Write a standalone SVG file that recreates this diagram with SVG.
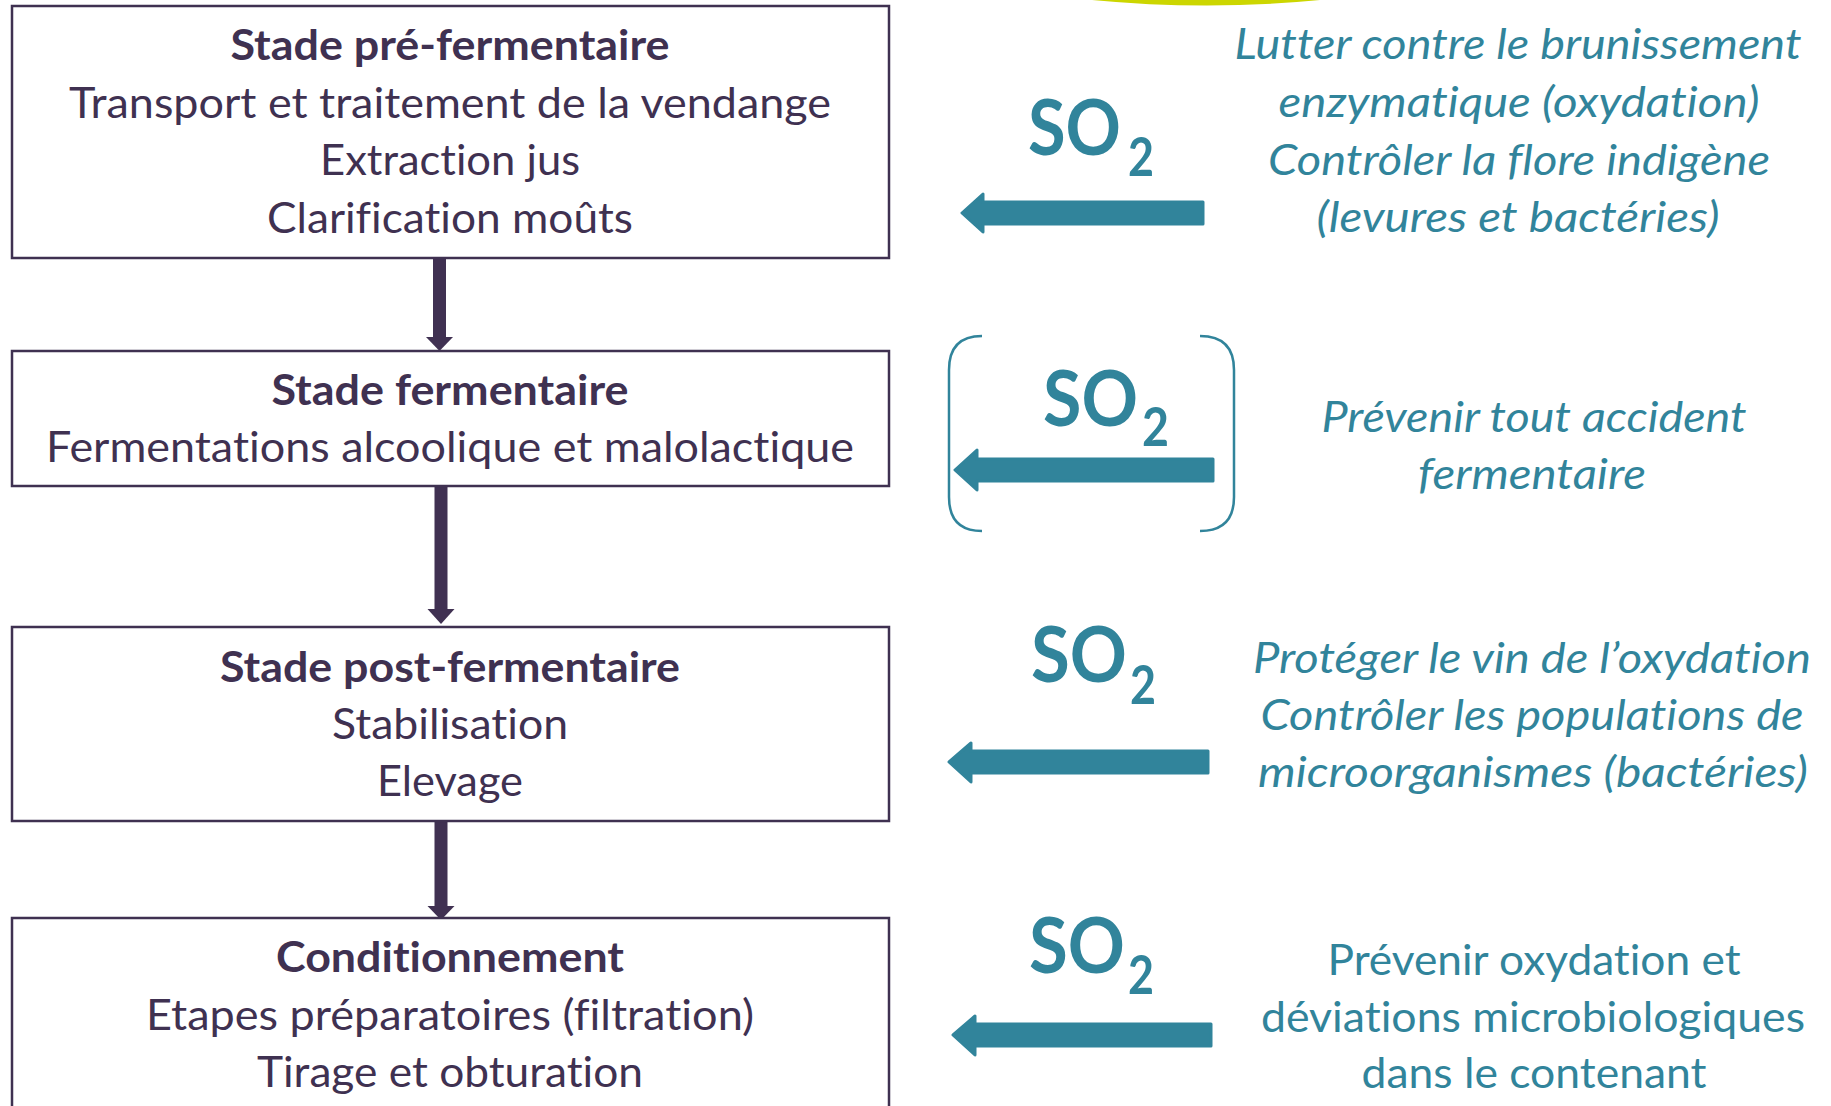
<svg xmlns="http://www.w3.org/2000/svg" width="1831" height="1106" viewBox="0 0 1831 1106">
<defs>
<style>
text{font-variant-ligatures:none;font-feature-settings:"liga" 0,"dlig" 0}
.box{fill:#fff;stroke:#3F3151;stroke-width:2.5}
.t{font-family:Lato,"Open Sans","Liberation Sans",sans-serif;font-size:42px;fill:#3F3151;text-anchor:middle}
.b{font-weight:bold}
.r{font-family:Lato,"Open Sans","Liberation Sans",sans-serif;font-size:42px;fill:#31849B;text-anchor:middle}
.i{font-style:italic}
.so{font-family:Lato,"Open Sans","Liberation Sans",sans-serif;font-weight:bold;fill:#31849B}
.sa{fill:#31849B;stroke:#31849B;stroke-width:3;stroke-linejoin:round}
.da{fill:#403152}
.br{fill:none;stroke:#31849B;stroke-width:2.5}
</style>
</defs>
<rect width="1831" height="1106" fill="#fff"/>
<path d="M1092 0 Q1207 11 1320 0 Z" fill="#CCD600"/>

<g id="connectors">
<g id="c1"><rect class="da" x="433" y="256" width="13" height="82"/><path class="da" d="M426 337 L453 337 L439.5 351 Z"/></g>
<g id="c2"><rect class="da" x="434.5" y="485" width="13" height="125"/><path class="da" d="M427.5 609 L454.5 609 L441 624 Z"/></g>
<g id="c3"><rect class="da" x="434.5" y="822" width="13" height="86"/><path class="da" d="M427.5 906 L454.5 906 L441 920 Z"/></g>
</g>

<g id="stage1">
<rect class="box" x="12" y="6" width="877" height="252"/>
<text class="t b" x="450" y="60" textLength="439" lengthAdjust="spacingAndGlyphs">Stade pré-fermentaire</text>
<text class="t" x="450" y="118" textLength="762" lengthAdjust="spacingAndGlyphs">Transport et traitement de la vendange</text>
<text class="t" x="450" y="175" textLength="260" lengthAdjust="spacingAndGlyphs">Extraction jus</text>
<text class="t" x="450" y="233" textLength="366" lengthAdjust="spacingAndGlyphs">Clarification moûts</text>
</g>

<g id="stage2">
<rect class="box" x="12" y="351" width="877" height="135"/>
<text class="t b" x="450" y="405" textLength="357" lengthAdjust="spacingAndGlyphs">Stade fermentaire</text>
<text class="t" x="450" y="462" textLength="808" lengthAdjust="spacingAndGlyphs">Fermentations alcoolique et malolactique</text>
</g>

<g id="stage3">
<rect class="box" x="12" y="627" width="877" height="194"/>
<text class="t b" x="450" y="682" textLength="460" lengthAdjust="spacingAndGlyphs">Stade post-fermentaire</text>
<text class="t" x="450" y="739" textLength="236" lengthAdjust="spacingAndGlyphs">Stabilisation</text>
<text class="t" x="450" y="796" textLength="146" lengthAdjust="spacingAndGlyphs">Elevage</text>
</g>

<g id="stage4">
<rect class="box" x="12" y="918" width="877" height="210"/>
<text class="t b" x="450" y="972" textLength="348" lengthAdjust="spacingAndGlyphs">Conditionnement</text>
<text class="t" x="450" y="1030" textLength="608" lengthAdjust="spacingAndGlyphs">Etapes préparatoires (filtration)</text>
<text class="t" x="450" y="1087" textLength="386" lengthAdjust="spacingAndGlyphs">Tirage et obturation</text>
</g>

<g id="so2-1">
<text class="so" x="1028" y="155" font-size="76" textLength="93" lengthAdjust="spacingAndGlyphs">SO</text>
<text class="so" x="1128" y="176" font-size="53" textLength="26" lengthAdjust="spacingAndGlyphs">2</text>
<path class="sa" d="M962 213 L983 194 L983 202 L1203 202 L1203 224 L983 224 L983 232 Z"/>
</g>
<g id="role1">
<text class="r i" x="1518" y="59" textLength="567" lengthAdjust="spacingAndGlyphs">Lutter contre le brunissement</text>
<text class="r i" x="1519" y="117" textLength="481" lengthAdjust="spacingAndGlyphs">enzymatique (oxydation)</text>
<text class="r i" x="1519" y="175" textLength="502" lengthAdjust="spacingAndGlyphs">Contrôler la flore indigène</text>
<text class="r i" x="1518" y="232" textLength="403" lengthAdjust="spacingAndGlyphs">(levures et bactéries)</text>
</g>

<g id="so2-2">
<path class="br" d="M982 336 Q949 336 949 370 L949 497 Q949 531 982 531"/>
<path class="br" d="M1200 336 Q1234 336 1234 370 L1234 497 Q1234 531 1200 531"/>
<text class="so" x="1043" y="426" font-size="76" textLength="95" lengthAdjust="spacingAndGlyphs">SO</text>
<text class="so" x="1142" y="446" font-size="53" textLength="27" lengthAdjust="spacingAndGlyphs">2</text>
<path class="sa" d="M955 470 L977 450 L977 459 L1213 459 L1213 481 L977 481 L977 490 Z"/>
</g>
<g id="role2">
<text class="r i" x="1534" y="432" textLength="425" lengthAdjust="spacingAndGlyphs">Prévenir tout accident</text>
<text class="r i" x="1532" y="489" textLength="228" lengthAdjust="spacingAndGlyphs">fermentaire</text>
</g>

<g id="so2-3">
<text class="so" x="1031" y="682" font-size="76" textLength="96" lengthAdjust="spacingAndGlyphs">SO</text>
<text class="so" x="1130" y="704" font-size="53" textLength="26" lengthAdjust="spacingAndGlyphs">2</text>
<path class="sa" d="M949 762 L971 743 L971 751 L1208 751 L1208 773 L971 773 L971 782 Z"/>
</g>
<g id="role3">
<text class="r i" x="1532" y="673" textLength="558" lengthAdjust="spacingAndGlyphs">Protéger le vin de l’oxydation</text>
<text class="r i" x="1532" y="730" textLength="543" lengthAdjust="spacingAndGlyphs">Contrôler les populations de</text>
<text class="r i" x="1533" y="787" textLength="550" lengthAdjust="spacingAndGlyphs">microorganismes (bactéries)</text>
</g>

<g id="so2-4">
<text class="so" x="1029" y="973" font-size="76" textLength="96" lengthAdjust="spacingAndGlyphs">SO</text>
<text class="so" x="1128" y="994" font-size="53" textLength="26" lengthAdjust="spacingAndGlyphs">2</text>
<path class="sa" d="M953 1035 L975 1016 L975 1024 L1211 1024 L1211 1046 L975 1046 L975 1055 Z"/>
</g>
<g id="role4">
<text class="r" x="1534" y="975" textLength="413" lengthAdjust="spacingAndGlyphs">Prévenir oxydation et</text>
<text class="r" x="1533" y="1032" textLength="544" lengthAdjust="spacingAndGlyphs">déviations microbiologiques</text>
<text class="r" x="1534" y="1088" textLength="345" lengthAdjust="spacingAndGlyphs">dans le contenant</text>
</g>
</svg>
